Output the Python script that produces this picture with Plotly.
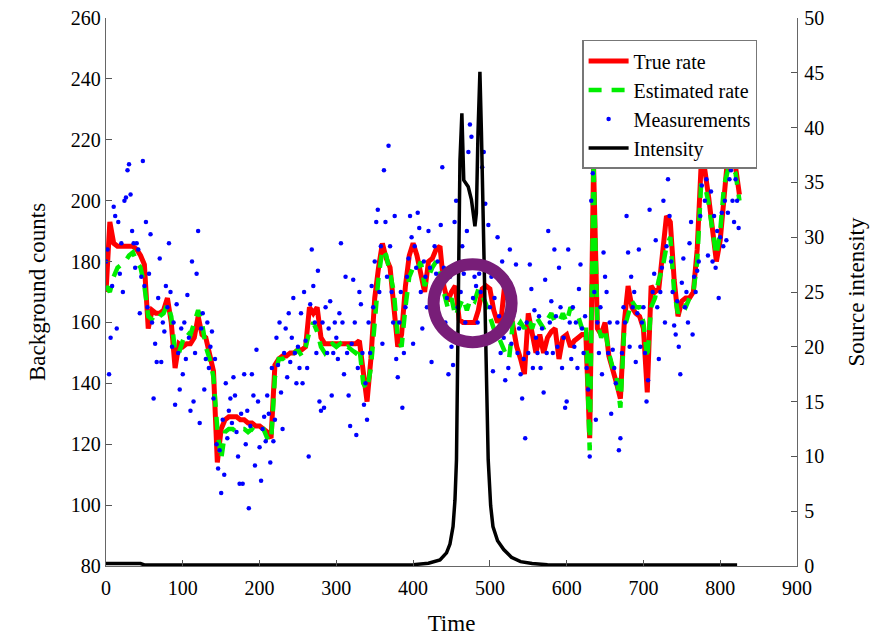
import numpy as np
import plotly.graph_objects as go

# ---------------- data ----------------
rate_t = list(range(0, 826, 5))
true_rate = [
    170, 193, 186, 185, 185, 185, 185, 185, 184, 182,
    179, 158, 164, 163, 163, 164, 168, 160, 145, 153,
    152, 153, 153, 155, 162, 156, 155, 150, 144, 114,
    125, 128, 129, 129, 129, 128, 128, 127, 127, 126,
    126, 125, 124, 122, 146, 148, 149, 149, 150, 150,
    151, 151, 152, 165, 163, 165, 155, 153, 153, 153,
    153, 153, 153, 153, 153, 153, 154, 145, 134, 148,
    168, 178, 186, 181, 178, 165, 152, 156, 172, 182,
    186, 182, 175, 170, 180, 181, 184, 185, 172, 167,
    170, 172, 161, 160, 160, 160, 160, 164, 171, 172,
    171, 164, 160, 162, 174, 166, 158, 152, 148, 143,
    163, 157, 150, 156, 150, 155, 157, 158, 148, 155,
    156, 152, 154, 155, 156, 156, 122, 212, 158, 156,
    160, 149, 145, 140, 135, 160, 172, 165, 163, 162,
    158, 137, 172, 170, 171, 184, 195, 193, 174, 162,
    167, 168, 168, 170, 184, 211, 210, 201, 190, 180,
    187, 200, 215, 213, 211, 202,
]
est_rate = [
    172, 170, 175, 178, 179, 180, 182, 183, 180, 178,
    172, 162, 161, 160, 162, 163, 166, 162, 150, 150,
    154, 157, 156, 160, 164, 160, 152, 148, 142, 125,
    115, 124, 125, 125, 124, 125, 125, 124, 125, 124,
    125, 125, 122, 121, 142, 148, 148, 149, 150, 150,
    151, 149, 152, 157, 160, 157, 152, 150, 152, 153,
    152, 153, 151, 152, 151, 150, 152, 140, 138, 145,
    160, 175, 184, 182, 176, 170, 155, 152, 165, 175,
    178, 177, 180, 172, 175, 178, 180, 176, 170, 165,
    168, 162, 165, 168, 164, 168, 167, 171, 169, 166,
    162, 158, 156, 153, 150, 148, 160, 158, 160, 158,
    161, 158, 162, 160, 158, 161, 163, 160, 160, 163,
    160, 165, 163, 162, 158, 160, 118, 212, 160, 155,
    158, 150, 145, 142, 132, 158, 162, 167, 165, 165,
    160, 148, 165, 168, 174, 178, 185, 188, 170, 163,
    166, 165, 168, 170, 180, 205, 205, 199, 190, 182,
    190, 205, 210, 211, 209, 200,
]

meas_t = list(range(0, 825, 2))
measurements = [
    # 0-48
    180, 184, 143, 155, 172, 198, 195, 158, 193, 176, 186, 170, 200, 201, 210, 212, 202, 190, 186, 178, 186, 184, 163, 175, 213,
    # 50-98
    172, 193, 165, 176, 189, 160, 135, 153, 147, 168, 181, 147, 160, 157, 172, 165, 186, 170, 152, 160, 133, 166, 150, 138, 158,
    # 100-148
    143, 160, 148, 169, 155, 131, 180, 134, 150, 176, 190, 127, 158, 163, 138, 148, 160, 145, 152, 157, 135, 148, 120, 112, 118,
    # 150-198
    104, 128, 110, 140, 122, 131, 135, 127, 142, 136, 124, 116, 107, 130, 107, 143, 120, 131, 99, 126, 143, 136, 113, 151, 134,
    # 200-248
    119, 108, 125, 129, 121, 136, 130, 114, 145, 121, 128, 155, 146, 160, 137, 125, 150, 158, 142, 163, 147, 155, 168, 150, 140,
    # 250-298
    152, 145, 163, 140, 170, 154, 145, 116, 166, 184, 172, 160, 150, 177, 134, 131, 160, 132, 165, 150, 158, 167, 136, 150, 160,
    # 300-348
    155, 148, 163, 186, 160, 143, 175, 150, 136, 126, 153, 174, 160, 123, 145, 170, 166, 150, 133, 140, 128, 160, 150, 172, 165,
    # 350-398
    180, 193, 197, 170, 185, 153, 210, 193, 175, 218, 185, 170, 160, 195, 148, 142, 160, 170, 132, 150, 165, 175, 181, 195, 188,
    # 400-448
    153, 185, 178, 196, 191, 170, 158, 180, 175, 165, 190, 178, 147, 162, 185, 176, 180, 170, 192, 211, 178, 160, 168, 143, 175,
    # 450-498
    152, 146, 193, 200, 165, 180, 170, 185, 176, 160, 190, 216, 225, 221, 168, 175, 172, 160, 176, 170, 211, 216, 199, 178, 192,
    # 500-548
    165, 175, 144, 168, 155, 188, 162, 150, 180, 155, 141, 160, 145, 184, 153, 162, 168, 179, 150, 158, 143, 135, 148, 122, 160,
    # 550-598
    150, 179, 171, 145, 164, 155, 150, 162, 145, 158, 137, 174, 150, 190, 160, 167, 150, 184, 162, 152, 178, 165, 145, 155, 132,
    # 600-648
    134, 184, 160, 148, 165, 152, 160, 145, 171, 179, 158, 150, 162, 145, 138, 116, 200, 209, 170, 128, 160, 150, 165, 143, 183,
    # 650-698
    175, 170, 150, 160, 130, 151, 145, 140, 160, 118, 122, 150, 165, 160, 195, 183, 152, 175, 165, 170, 147, 163, 184, 152, 160,
    # 700-748
    165, 150, 134, 141, 197, 213, 170, 176, 187, 165, 148, 170, 178, 200, 160, 185, 207, 195, 180, 170, 159, 156, 167, 152, 143,
    # 750-798
    173, 181, 165, 170, 160, 186, 193, 156, 175, 170, 177, 180, 195, 205, 216, 200, 207, 182, 214, 203, 180, 195, 178, 190, 168,
    # 800-824
    188, 196, 185, 200, 187, 196, 207, 210, 200, 193, 207, 200, 191,
]

int_t = [0, 45, 50, 100, 200, 300, 400, 420, 435, 443.5, 448, 452, 454.5, 456.5, 458.7, 461,
         463.5, 464.5, 466, 471.8, 476, 480.5, 482.4, 484.5, 487, 489, 492, 494.5, 497.8,
         501, 504, 510, 518, 528, 540, 555, 575, 600, 700, 822]
intensity = [0.22, 0.22, 0.1, 0.08, 0.08, 0.08, 0.12, 0.25, 0.55, 1.2, 2.0, 3.6, 6.0, 9.7, 21.8, 37,
             41.3, 38, 35.2, 34.6, 33.4, 31, 32.2, 39.5, 45.1, 39.5, 30.4, 22, 9.7,
             5.5, 3.6, 2.3, 1.5, 0.8, 0.4, 0.22, 0.12, 0.08, 0.08, 0.08]

assert len(true_rate) == len(rate_t) == len(est_rate)
assert len(measurements) == len(meas_t)
assert len(int_t) == len(intensity)

x_ticks = [0, 100, 200, 300, 400, 500, 600, 700, 800, 900]
y_ticks = [80, 100, 120, 140, 160, 180, 200, 220, 240, 260]
y2_ticks = [0, 5, 10, 15, 20, 25, 30, 35, 40, 45, 50]

# circle highlight (data coordinates)
circ_cx, circ_cy, circ_rx, circ_ry = 477.5, 166.3, 50.8, 12.8

FONT = "Liberation Serif"

fig = go.Figure()
fig.add_trace(go.Scatter(x=rate_t, y=true_rate, mode="lines", name="True rate",
                         line=dict(color="#FF0000", width=5)))
fig.add_trace(go.Scatter(x=rate_t, y=est_rate, mode="lines", name="Estimated rate",
                         line=dict(color="#00EE00", width=4.5, dash="13px,10px")))
fig.add_trace(go.Scatter(x=meas_t, y=measurements, mode="markers", name="Measurements",
                         marker=dict(color="#0000FF", size=4.5)))
fig.add_trace(go.Scatter(x=int_t, y=intensity, mode="lines", name="Intensity",
                         line=dict(color="#000000", width=3.5),
                         yaxis="y2"))

fig.add_shape(type="circle", xref="x", yref="y",
              x0=circ_cx - circ_rx, x1=circ_cx + circ_rx,
              y0=circ_cy - circ_ry, y1=circ_cy + circ_ry,
              line=dict(color="#781E78", width=12), layer="above")

axis_common = dict(showgrid=False, zeroline=False, ticks="inside", ticklen=6,
                   tickcolor="#555", showline=True, linecolor="#666", linewidth=1.3,
                   automargin=False,
                   tickfont=dict(family=FONT, size=20, color="black"))

fig.update_layout(
    width=894, height=639,
    margin=dict(l=106, r=97, t=18, b=73),
    plot_bgcolor="white", paper_bgcolor="white",
    font=dict(family=FONT, color="black"),
    xaxis=dict(range=[0, 900], tickvals=x_ticks, ticktext=[str(v) for v in x_ticks],
               ticklabelstandoff=4,
               title=dict(text="Time", font=dict(family=FONT, size=23), standoff=16),
               **axis_common),
    yaxis=dict(range=[80, 260], tickvals=y_ticks, ticktext=[str(v) for v in y_ticks],
               title=dict(text="Background counts", font=dict(family=FONT, size=23), standoff=18),
               **axis_common),
    yaxis2=dict(range=[0, 50], tickvals=y2_ticks, ticktext=[str(v) for v in y2_ticks],
                overlaying="y", side="right", ticklabelstandoff=2,
                title=dict(text="Source intensity", font=dict(family=FONT, size=23), standoff=24),
                **axis_common),
    legend=dict(x=0.689, y=0.96, xanchor="left", yanchor="top",
                bgcolor="white", bordercolor="#777", borderwidth=1.5,
                font=dict(family=FONT, size=20), tracegroupgap=0, itemwidth=40),
    showlegend=True,
)

fig.write_html("out.html")
